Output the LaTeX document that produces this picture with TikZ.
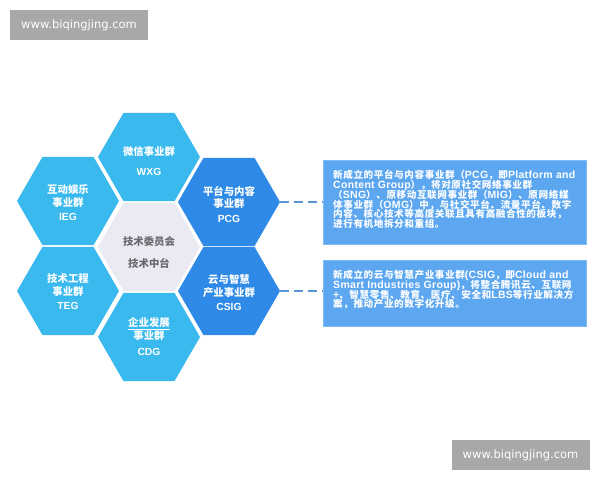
\documentclass[tikz,border=0pt]{standalone}
\usepackage{fontspec}
\setmainfont{Liberation Sans}
\newfontfamily\cjk{Noto Sans CJK SC}[Scale=0.936]
\newfontfamily\cjkbox{Noto Sans CJK SC}[Scale=0.914,LetterSpace=6]
\newfontfamily\latbox{Liberation Sans}[LetterSpace=3]
\newfontfamily\wmfont{DejaVu Sans}
\usetikzlibrary{shapes.geometric}
\definecolor{hexlight}{RGB}{58,185,238}
\definecolor{hexdark}{RGB}{46,138,230}
\definecolor{hexmid}{RGB}{234,234,243}
\definecolor{boxfill}{RGB}{92,167,240}
\definecolor{boxedge}{RGB}{125,188,246}
\definecolor{dashcol}{RGB}{88,150,215}
\definecolor{wmgray}{RGB}{168,168,168}
\definecolor{midtext}{RGB}{105,105,110}
\newcommand\C[1]{{\cjk #1}}
\newcommand\K[1]{{\cjkbox #1}}
\newcommand\tightlines{\lineskiplimit-100pt\relax}
\newcommand\boxfont{\latbox\fontsize{10.5}{9.7}\selectfont\bfseries\tightlines}
\begin{document}
\begin{tikzpicture}[x=1pt,y=-1pt,
  hexa/.style={regular polygon, regular polygon sides=6, minimum size=102pt, inner sep=0pt, draw=none},
  hexl/.style={hexa, fill=hexlight},
  hexd/.style={hexa, fill=hexdark},
  hexc/.style={hexa, fill=hexmid},
  hcjk/.style={text=white, inner sep=0pt, font=\fontsize{11.1}{12}\selectfont\bfseries},
  hlat/.style={text=white, inner sep=0pt, font=\fontsize{10.3}{12}\selectfont\bfseries},
  mcjk/.style={text=midtext, inner sep=0pt, font=\fontsize{11.1}{12}\selectfont\bfseries},
  infobox/.style={rectangle, fill=boxfill, draw=boxedge, line width=0.8pt, minimum width=263pt, inner sep=0pt},
  infotext/.style={text=white, inner sep=0pt, anchor=west, align=left, font=\boxfont},
  dashline/.style={draw=dashcol, line width=1.2pt, dash pattern=on 9pt off 5pt},
  wmbox/.style={rectangle, fill=wmgray, text=white, minimum width=138pt, minimum height=30pt, inner sep=0pt, font=\wmfont\fontsize{11.5}{12}\selectfont}
]
\useasboundingbox (0,0) rectangle (600,480);
\fill[white] (0,0) rectangle (600,480);

% watermarks
\node[wmbox] (wm1) at (79,25) {www.biqingjing.com};
\node[wmbox] (wm2) at (520.5,455) {www.biqingjing.com};

% hexagons
\node[hexl] (wxg) at (149,157) {};
\node[hexl] (ieg) at (68,201) {};
\node[hexd] (pcg) at (229,202) {};
\node[hexc] (ctr) at (149,247) {};
\node[hexl] (teg) at (68,291) {};
\node[hexd] (csig) at (229,291) {};
\node[hexl] (cdg) at (149,337) {};

% hexagon labels
\node[hcjk] (wxg1) at (149,152) {\C{微信事业群}};
\node[hlat] (wxg2) at (149,172) {WXG};

\node[hcjk] (ieg1) at (68,190) {\C{互动娱乐}};
\node[hcjk] (ieg2) at (68,202.5) {\C{事业群}};
\node[hlat] (ieg3) at (68,217) {IEG};

\node[hcjk] (pcg1) at (229,191.5) {\C{平台与内容}};
\node[hcjk] (pcg2) at (229,204) {\C{事业群}};
\node[hlat] (pcg3) at (229,218.5) {PCG};

\node[mcjk] (ctr1) at (149,242) {\C{技术委员会}};
\node[mcjk] (ctr2) at (149,263) {\C{技术中台}};

\node[hcjk] (teg1) at (68,279) {\C{技术工程}};
\node[hcjk] (teg2) at (68,291.5) {\C{事业群}};
\node[hlat] (teg3) at (68,306) {TEG};

\node[hcjk] (csig1) at (229,280) {\C{云与智慧}};
\node[hcjk] (csig2) at (229,292.5) {\C{产业事业群}};
\node[hlat] (csig3) at (229,307) {CSIG};

\node[hcjk] (cdg1) at (149,323.5) {\C{\underline{企业发展}}};
\node[hcjk] (cdg2) at (149,336) {\C{事业群}};
\node[hlat] (cdg3) at (149,352) {CDG};

% info boxes
\node[infobox, minimum height=84pt] (box1) at (454.5,202) {};
\node[infobox, minimum height=66pt] (box2) at (454.5,293) {};

\node[infotext] (txt1) at (333,199.5) {%
\K{新成立的平台与内容事业群（}PCG\K{，即}Platform and\\
Content Group\K{），将对原社交网络事业群}\\
\K{（}SNG\K{）、原移动互联网事业群（}MIG\K{）、原网络媒}\\
\K{体事业群（}OMG\K{）中，与社交平台、流量平台、数字}\\
\K{内容、核心技术等高度关联且具有高融合性的板块，}\\
\K{进行有机地拆分和重组。}};

\node[infotext] (txt2) at (333,290) {%
\K{新成立的云与智慧产业事业群}(CSIG\K{，即}Cloud and\\
Smart Industries Group)\K{，将整合腾讯云、互联网}\\
+\K{、智慧零售、教育、医疗、安全和}LBS\K{等行业解决方}\\
\K{案，推动产业的数字化升级。}};

% connectors
\draw[dashline] (pcg.east) -- (box1.west);
\draw[dashline] (csig.east) -- (csig.east -| box2.west);
\end{tikzpicture}
\end{document}
